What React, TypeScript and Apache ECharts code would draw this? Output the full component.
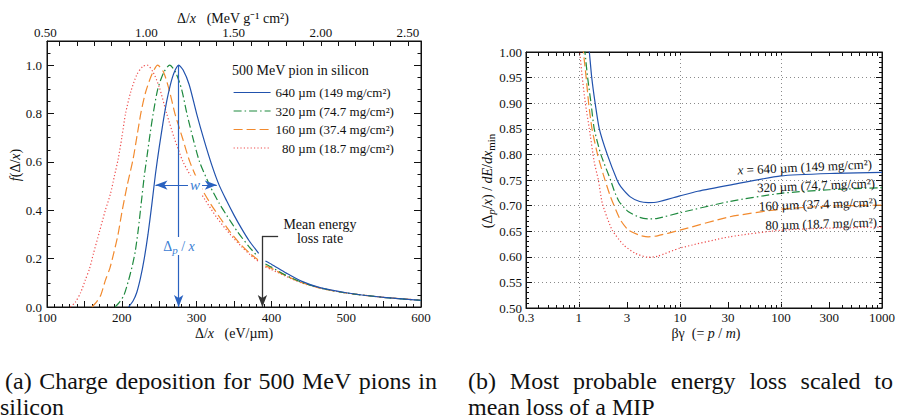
import React, { useEffect, useRef } from 'react';
import * as echarts from 'echarts';

// ---------------- Panel (a): straggling functions, 500 MeV pions in silicon ----------------
const EV_PER_MEV_G_CM2 = 233; // silicon: 1 MeV g^-1 cm^2 = 233 eV/µm

const seriesNamesA = ['640 µm (149 mg/cm²)', '320 µm (74.7 mg/cm²)', '160 µm (37.4 mg/cm²)', '\u200780 µm (18.7 mg/cm²)'];

const loss640 = [209, 215, 220, 225, 230, 235, 240, 245, 250, 255, 260, 265, 270, 276, 282, 290, 300, 310, 320, 330, 340, 350, 360, 370, 383, 388, 392, 400, 420, 440, 465, 500, 550, 600];
const f640 = [0, 0.025, 0.06, 0.12, 0.2, 0.3, 0.42, 0.55, 0.66, 0.76, 0.85, 0.92, 0.97, 1.0, 0.98, 0.92, 0.8, 0.69, 0.59, 0.505, 0.44, 0.38, 0.325, 0.275, 0.222, null, 0.19, 0.177, 0.14, 0.107, 0.08, 0.059, 0.04, 0.028];

const loss320 = [191, 197, 203, 209, 214, 218, 222, 226, 230, 234, 238, 242, 248, 256, 264, 272, 280, 287, 295, 304, 318, 330, 340, 355, 370, 382, 388, 392, 400, 420, 440, 465, 500, 550, 600];
const f320 = [0, 0.02, 0.05, 0.11, 0.17, 0.23, 0.32, 0.43, 0.54, 0.63, 0.72, 0.8, 0.9, 0.97, 1.0, 0.97, 0.9, 0.8, 0.7, 0.6, 0.5, 0.43, 0.38, 0.31, 0.25, 0.208, null, 0.178, 0.165, 0.13, 0.103, 0.079, 0.058, 0.04, 0.027];

const loss160 = [160, 166, 172, 178, 184, 189, 195, 200, 207, 215, 221, 226, 232, 240, 248, 256, 264, 271, 281, 291, 305, 318, 331, 345, 360, 372, 382, 388, 392, 400, 420, 440, 465, 500, 550, 600];
const f160 = [0, 0.02, 0.05, 0.11, 0.16, 0.22, 0.3, 0.39, 0.5, 0.61, 0.72, 0.81, 0.89, 0.96, 1.0, 0.97, 0.89, 0.8, 0.7, 0.6, 0.5, 0.43, 0.37, 0.31, 0.255, 0.22, 0.195, null, 0.17, 0.16, 0.128, 0.102, 0.078, 0.058, 0.04, 0.028];

const loss80 = [131, 138, 145, 151, 157, 162, 170, 178, 185, 190, 195, 200, 205, 212, 220, 228, 234, 242, 250, 260, 270, 282, 300, 312, 327, 345, 360, 372, 382, 388, 392, 400, 420, 440, 465, 500, 550, 600];
const f80 = [0, 0.02, 0.06, 0.11, 0.16, 0.22, 0.31, 0.4, 0.47, 0.54, 0.61, 0.7, 0.8, 0.89, 0.96, 0.995, 1.0, 0.97, 0.91, 0.8, 0.7, 0.6, 0.5, 0.44, 0.37, 0.3, 0.25, 0.215, 0.19, null, 0.165, 0.155, 0.126, 0.1, 0.078, 0.058, 0.04, 0.028];

const mostProbable640 = 276; // eV/µm
const halfMaxEdges640 = [245, 327]; // eV/µm at f = 0.5
const meanLossRate = 388; // eV/µm

const bottomAxisLabels = [100, 200, 300, 400, 500, 600];
const topAxisLabels = [0.5, 1.0, 1.5, 2.0, 2.5];
const topAxisTicks = [0.5, 0.6, 0.7, 0.8, 0.9, 1.0, 1.1, 1.2, 1.3, 1.4, 1.5, 1.6, 1.7, 1.8, 1.9, 2.0, 2.1, 2.2, 2.3, 2.4, 2.5];

// ---------------- Panel (b): most probable loss / mean loss of a MIP ----------------
const bg640 = [1.2, 1.27, 1.34, 1.45, 1.59, 1.91, 2.39, 2.6, 3.23, 4.0, 4.86, 6, 10, 15, 31, 100, 340, 1000];
const r640 = [1.04, 1.0, 0.951, 0.9, 0.851, 0.8, 0.75, 0.737, 0.717, 0.708, 0.706, 0.707, 0.719, 0.728, 0.74, 0.758, 0.763, 0.765];

const bg320 = [1.1, 1.15, 1.22, 1.32, 1.42, 1.65, 2.06, 2.25, 2.5, 3.1, 4.0, 4.86, 6, 10, 31, 100, 300, 1000];
const r320 = [1.04, 1.0, 0.951, 0.9, 0.85, 0.8, 0.75, 0.728, 0.708, 0.688, 0.677, 0.674, 0.675, 0.686, 0.708, 0.724, 0.731, 0.735];

const bg160 = [1.06, 1.11, 1.18, 1.25, 1.35, 1.53, 1.75, 2.06, 2.58, 3.1, 4.0, 4.86, 6, 10, 31, 100, 300, 1000];
const r160 = [1.04, 1.0, 0.951, 0.9, 0.85, 0.8, 0.76, 0.717, 0.672, 0.652, 0.642, 0.639, 0.641, 0.652, 0.678, 0.693, 0.699, 0.701];

const bg80 = [0.98, 1.02, 1.08, 1.16, 1.27, 1.42, 1.56, 1.71, 2.14, 2.78, 3.6, 4.86, 6, 10, 31, 100, 300, 1000];
const r80 = [1.03, 1.0, 0.951, 0.9, 0.85, 0.785, 0.75, 0.704, 0.652, 0.623, 0.607, 0.599, 0.601, 0.617, 0.639, 0.652, 0.656, 0.658];

const bgTickLabels = [0.3, 1, 3, 10, 30, 100, 300, 1000];
const bgMinorTicks = [0.4, 0.5, 0.6, 0.7, 0.8, 0.9, 2, 4, 5, 6, 7, 8, 9, 20, 40, 50, 60, 70, 80, 90, 200, 400, 500, 600, 700, 800, 900];
const bgGridDecades = [1, 10, 100];
const inlineLabelsB = ['{i|x}{n| = 640 µm (149 mg/cm²)}', '{n|320 µm (74.7 mg/cm²)}', '{n|160 µm (37.4 mg/cm²)}', '{n|80 µm (18.7 mg/cm²)}'];

// ---------------- styling ----------------
const SERIF = 'Liberation Serif, serif';
const CAPTION_FONT = 'Liberation Serif, serif';
const INK = '#111';
const COLORS = ['#2152ad', '#1f8a3f', '#f28a2e', '#ee4d4d'];
const DASHES: any[] = ['solid', [8, 3, 1.5, 3], [9, 4], [1.2, 2.2]];
const ANN_BLUE = '#2a62c0';
const TXT_BLUE = '#3a80d4';

const lbl = { fontFamily: SERIF, fontSize: 13, color: INK };

function richSet(size: number, color: string) {
  const base = { fontFamily: SERIF, fontSize: size, fill: color, color, lineHeight: size + 4 };
  return {
    n: { ...base },
    i: { ...base, fontStyle: 'italic' },
    s: { ...base, fontSize: size - 3, fontStyle: 'italic', verticalAlign: 'bottom', lineHeight: size + 4 },
    m: { ...base, fontSize: size - 3, verticalAlign: 'bottom', lineHeight: size + 4 },
  };
}

function text(x: number, y: number, str: string, size: number, color: string, extra: any = {}) {
  const { rotation, align, bg, ...rest } = extra;
  return {
    type: 'text',
    x,
    y,
    rotation: rotation || 0,
    z: 100,
    silent: true,
    style: {
      text: str,
      rich: richSet(size, color),
      font: `${size}px ${SERIF}`,
      fontFamily: SERIF,
      fontSize: size,
      fill: color,
      align: align || 'center',
      textAlign: align || 'center',
      verticalAlign: 'middle',
      textVerticalAlign: 'middle',
      backgroundColor: bg,
      padding: bg ? [0, 2] : 0,
      ...rest,
    },
  };
}

function justified(str: string, x0: number, x1: number, y: number, size: number) {
  const words = str.split(' ');
  const font = `${size}px ${CAPTION_FONT}`;
  const ctx = document.createElement('canvas').getContext('2d')!;
  ctx.font = font;
  const widths = words.map((w) => ctx.measureText(w).width);
  const total = widths.reduce((a, b) => a + b, 0);
  const gap = words.length > 1 ? (x1 - x0 - total) / (words.length - 1) : 0;
  let x = x0;
  return words.map((w, i) => {
    const el = {
      type: 'text', x, y, z: 100, silent: true,
      style: { text: w, font, fill: '#111', align: 'left', textAlign: 'left', verticalAlign: 'middle', textVerticalAlign: 'middle' },
    };
    x += widths[i] + gap;
    return el;
  });
}

function plain(str: string, x: number, y: number, size: number) {
  const font = `${size}px ${CAPTION_FONT}`;
  return {
    type: 'text', x, y, z: 100, silent: true,
    style: { text: str, font, fill: '#111', align: 'left', textAlign: 'left', verticalAlign: 'middle', textVerticalAlign: 'middle' },
  };
}

const toPairs = (xs: number[], ys: (number | null)[]) => xs.map((x, i) => [x, ys[i] === null ? '-' : ys[i]]);
const toLogPairs = (xs: number[], ys: number[]) => xs.map((x, i) => [Math.log10(x), ys[i]]);
const fmtBG = (v: number) => {
  const x = Math.pow(10, v);
  return x < 1 ? x.toFixed(1) : String(Math.round(x));
};

function buildOption(): any {
  const LOG_MIN = Math.log10(bgTickLabels[0]);
  const LOG_MAX = Math.log10(bgTickLabels[bgTickLabels.length - 1]);
  const tickLine = { lineStyle: { color: INK, width: 1 } };
  const axisLine = { show: true, onZero: false, lineStyle: { color: INK, width: 1 } };

  const xAxis = [
    {
      gridIndex: 0, type: 'value', position: 'bottom', min: 100, max: 600, interval: 50,
      axisLine,
      axisTick: { show: true, inside: true, length: 6, ...tickLine },
      minorTick: { show: true, splitNumber: 5, length: 3, ...tickLine },
      axisLabel: { ...lbl, margin: 4, formatter: (v: number) => (bottomAxisLabels.includes(v) ? String(v) : '') },
      splitLine: { show: false },
    },
    {
      gridIndex: 0, type: 'value', position: 'top', min: 100, max: 600,
      axisLine,
      axisTick: { show: true, inside: true, length: 5, customValues: topAxisTicks.map((v) => v * EV_PER_MEV_G_CM2), ...tickLine },
      axisLabel: {
        ...lbl, margin: 2,
        customValues: topAxisLabels.map((v) => v * EV_PER_MEV_G_CM2),
        formatter: (v: number) => {
          const u = v / EV_PER_MEV_G_CM2;
          return Math.abs(u - topAxisLabels[0]) < 1e-6 ? `{first|${u.toFixed(2)}}` : u.toFixed(2);
        },
        rich: { first: { ...lbl, padding: [0, 28, 0, 0] } },
      },
      splitLine: { show: false },
    },
    {
      gridIndex: 1, type: 'value', position: 'bottom', min: LOG_MIN, max: LOG_MAX,
      axisLine,
      axisTick: { show: true, inside: true, length: 6, customValues: bgTickLabels.map(Math.log10), ...tickLine },
      axisLabel: { ...lbl, margin: 3, customValues: bgTickLabels.map(Math.log10), formatter: fmtBG },
      splitLine: { show: false },
    },
    {
      gridIndex: 1, type: 'value', position: 'bottom', min: LOG_MIN, max: LOG_MAX,
      axisLine: { show: false },
      axisTick: { show: true, inside: true, length: 3, customValues: bgMinorTicks.map(Math.log10), ...tickLine },
      axisLabel: { show: false },
      splitLine: { show: false },
    },
    {
      gridIndex: 1, type: 'value', position: 'top', min: LOG_MIN, max: LOG_MAX,
      axisLine,
      axisTick: { show: true, inside: true, length: 4, customValues: [...bgTickLabels, ...bgMinorTicks].map(Math.log10), ...tickLine },
      axisLabel: { show: false },
      splitLine: { show: false },
    },
  ];

  const yLeftCommon = {
    gridIndex: 0, type: 'value', min: 0, max: 1.1, interval: 0.2,
    axisLine,
    axisTick: { show: true, inside: true, length: 7, ...tickLine },
    minorTick: { show: true, splitNumber: 4, length: 3.5, ...tickLine },
    splitLine: { show: false },
  };
  const yRightCommon = {
    gridIndex: 1, type: 'value', min: 0.5, max: 1.0, interval: 0.05,
    axisLine,
    axisTick: { show: true, inside: true, length: 6, ...tickLine },
    minorTick: { show: true, splitNumber: 5, length: 3, ...tickLine },
  };
  const yAxis = [
    { ...yLeftCommon, position: 'left', axisLabel: { ...lbl, margin: 5, formatter: (v: number) => (v > 1.0001 ? '' : v.toFixed(1)) } },
    { ...yLeftCommon, position: 'right', axisLabel: { show: false } },
    {
      ...yRightCommon, position: 'left',
      axisLabel: { ...lbl, margin: 4, formatter: (v: number) => v.toFixed(2) },
      splitLine: { show: true, lineStyle: { color: '#8a8a8a', width: 1, type: [1, 3] } },
    },
    { ...yRightCommon, position: 'right', axisLabel: { show: false }, splitLine: { show: false } },
  ];

  const dataA = [toPairs(loss640, f640), toPairs(loss320, f320), toPairs(loss160, f160), toPairs(loss80, f80)];
  const dataB = [toLogPairs(bg640, r640), toLogPairs(bg320, r320), toLogPairs(bg160, r160), toLogPairs(bg80, r80)];

  const lineSeries = (name: string, k: number, data: any[], xi: number, yi: number, smooth: number) => ({
    name, type: 'line', xAxisIndex: xi, yAxisIndex: yi, data,
    symbol: 'none', showSymbol: false, smooth, connectNulls: false, clip: true,
    lineStyle: { color: COLORS[k], width: 1.2, type: DASHES[k] },
    itemStyle: { color: COLORS[k] },
    z: 5 - k,
    silent: true,
  });

  const series: any[] = [];
  dataA.forEach((d, k) => series.push(lineSeries(seriesNamesA[k], k, d, 0, 0, 0.25)));
  dataB.forEach((d, k) => series.push(lineSeries('b' + k, k, d, 2, 2, 0.2)));

  // annotations of panel (a)
  series[0].markLine = {
    silent: true, animation: false, label: { show: false },
    symbolSize: [7, 12],
    lineStyle: { color: ANN_BLUE, width: 1.2, type: 'solid' },
    data: [
      [{ coord: [mostProbable640, 1.0], symbol: 'none' }, { coord: [mostProbable640, 0], symbol: 'arrow' }],
      [{ coord: [halfMaxEdges640[0], 0.504], symbol: 'arrow' }, { coord: [halfMaxEdges640[1], 0.504], symbol: 'arrow' }],
    ],
  };
  series[1].markLine = {
    silent: true, animation: false, label: { show: false },
    symbolSize: [7, 12],
    lineStyle: { color: '#333', width: 1.3, type: 'solid' },
    data: [
      [{ coord: [meanLossRate, 0.294], symbol: 'none' }, { coord: [meanLossRate, 0], symbol: 'arrow' }],
      [{ coord: [meanLossRate, 0.294], symbol: 'none' }, { coord: [meanLossRate + 21, 0.294], symbol: 'none' }],
    ],
  };
  // decade grid lines of panel (b)
  series[4].markLine = {
    silent: true, animation: false, label: { show: false }, symbol: ['none', 'none'],
    lineStyle: { color: '#8a8a8a', width: 1, type: [1, 3] },
    data: bgGridDecades.map((d) => [{ coord: [Math.log10(d), 0.5] }, { coord: [Math.log10(d), 1.0] }]),
  };

  const graphic: any[] = [
    // panel (a)
    text(232, 70, '500 MeV pion in silicon', 14, INK, { align: 'left' }),
    text(233, 18, '{n|Δ/}{i|x}{n|   (MeV g⁻¹ cm²)}', 14, INK),
    text(234, 333, '{n|Δ/}{i|x}{n|   (eV/µm)}', 14, INK),
    text(15, 165, '{i|f}{n|(Δ/}{i|x}{n|)}', 14, INK, { rotation: Math.PI / 2 }),
    text(195, 185, '{i|w}', 15, TXT_BLUE, { bg: '#fff' }),
    text(179, 246, '{n|Δ}{s|p}{n| / }{i|x}', 14, TXT_BLUE, { bg: '#fff' }),
    text(320, 231, 'Mean energy\nloss rate', 14, INK, { lineHeight: 14 }),
    // panel (b)
    text(487, 181, '{n|(Δ}{s|p}{n|/}{i|x}{n|) / }{i|dE}{n|/}{i|dx}{m|min}', 14, INK, { rotation: Math.PI / 2 }),
    text(706, 333, '{n|βγ  (= }{i|p}{n| / }{i|m}{n|)}', 14, INK),
    text(872, 164, inlineLabelsB[0], 13, INK, { align: 'right', rotation: 0.045 }),
    text(875, 183, inlineLabelsB[1], 13, INK, { align: 'right', rotation: 0.04 }),
    text(877, 202, inlineLabelsB[2], 13, INK, { align: 'right', rotation: 0.035 }),
    text(877, 222, inlineLabelsB[3], 13, INK, { align: 'right', rotation: 0.03 }),
    // captions
    ...justified('(a) Charge deposition for 500 MeV pions in', 5, 437, 381, 24),
    plain('silicon', 0, 407, 24),
    ...justified('(b) Most probable energy loss scaled to', 468, 893, 381, 24),
    plain('mean loss of a MIP', 468, 407, 24),
  ];

  return {
    animation: false,
    backgroundColor: '#fff',
    textStyle: { fontFamily: SERIF },
    grid: [
      { left: 47, top: 41, width: 374, height: 266, show: true, borderColor: INK, borderWidth: 1, backgroundColor: 'transparent' },
      { left: 526, top: 52, width: 362, height: 256, show: true, borderColor: INK, borderWidth: 1, backgroundColor: 'transparent' },
    ],
    legend: {
      show: true, orient: 'vertical', left: 233, top: 86, padding: 0,
      data: seriesNamesA,
      itemWidth: 37, itemHeight: 12, itemGap: 5.5,
      selectedMode: false,
      lineStyle: { width: 1.2 },
      itemStyle: { opacity: 0, color: 'transparent', borderColor: 'transparent', borderWidth: 0 },
      textStyle: { fontFamily: SERIF, fontSize: 13, color: INK, lineHeight: 12 },
    },
    xAxis,
    yAxis,
    series,
    graphic: { elements: graphic },
  };
}

export default function App() {
  const ref = useRef<HTMLDivElement>(null);
  useEffect(() => {
    const chart = echarts.init(ref.current!, null, { renderer: 'svg' });
    chart.setOption(buildOption());
    return () => chart.dispose();
  }, []);
  return (
    <div
      ref={ref}
      style={{ position: 'fixed', left: 0, top: 0, width: 898, height: 420, background: '#fff' }}
    />
  );
}
